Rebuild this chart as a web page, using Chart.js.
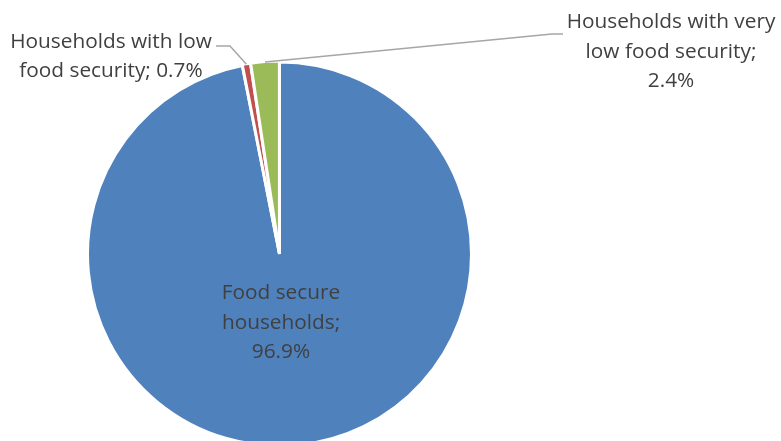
<!DOCTYPE html>
<html>
<head>
<meta charset="utf-8">
<script src="https://cdn.jsdelivr.net/npm/chart.js@4.4.0/dist/chart.umd.min.js"></script>
<style>
html, body { margin: 0; padding: 0; background: #ffffff; overflow: hidden; width: 781px; height: 441px; }
#wrap { width: 781px; height: 450px; }
canvas { display: block; }
</style>
</head>
<body>
<div id="wrap"><canvas id="c" width="781" height="450"></canvas></div>
<script>
const categories = ['Food secure households', 'Households with low food security', 'Households with very low food security'];
const values = [96.9, 0.7, 2.4];
const colors = ['#4F81BD', '#C0504D', '#9BBB59'];
// wrapped label lines as shown in the chart
const labelLines = [
  ['Food secure', 'households;', '96.9%'],
  ['Households with low', 'food security; 0.7%'],
  ['Households with very', 'low food security;', '2.4%']
];

const FONT = '20.8px "Open Sans"';
const TEXT_COLOR = '#404040';
const LEADER = '#A6A6A6';

const labelPlugin = {
  id: 'labelPlugin',
  afterDraw(chart) {
    const ctx = chart.ctx;
    const arcs = chart.getDatasetMeta(0).data;
    const cx = arcs[0].x, cy = arcs[0].y, r = arcs[0].outerRadius;
    ctx.save();
    ctx.font = FONT;
    ctx.fillStyle = TEXT_COLOR;
    ctx.textAlign = 'center';
    ctx.textBaseline = 'alphabetic';

    const inside = labelLines[0];
    inside.forEach((t, i) => ctx.fillText(t, cx + 1.5, cy + 45.3 + i * 29.5));

    function outerMid(arc) {
      const a = (arc.startAngle + arc.endAngle) / 2;
      const off = arc.options.offset || 0;
      const rr = r - 1.5 + off;
      return { x: arc.x + Math.cos(a) * rr, y: arc.y + Math.sin(a) * rr };
    }

    ctx.strokeStyle = LEADER;
    ctx.lineWidth = 1.5;

    const p1 = outerMid(arcs[1]);
    const l1x = cx - 168.5, l1y = cy - 205.7;
    ctx.beginPath();
    ctx.moveTo(p1.x, p1.y);
    ctx.lineTo(cx - 49.5, cy - 208);
    ctx.lineTo(cx - 63.5, cy - 208);
    ctx.stroke();
    labelLines[1].forEach((t, i) => ctx.fillText(t, l1x, l1y + i * 28.4));

    const p2 = outerMid(arcs[2]);
    const l2x = cx + 391.5, l2y = cy - 225.7;
    ctx.beginPath();
    ctx.moveTo(p2.x, p2.y);
    ctx.lineTo(cx + 272.5, cy - 220);
    ctx.lineTo(cx + 283.5, cy - 220);
    ctx.stroke();
    labelLines[2].forEach((t, i) => ctx.fillText(t, l2x, l2y + i * 29.2));
    ctx.restore();
  }
};

new Chart(document.getElementById('c'), {
  type: 'pie',
  data: {
    labels: categories,
    datasets: [{
      data: values,
      backgroundColor: colors,
      borderColor: '#ffffff',
      borderWidth: 3,
      hoverBorderWidth: 3,
      offset: [0, 2, 2],
      hoverOffset: 0
    }]
  },
  options: {
    responsive: false,
    animation: false,
    devicePixelRatio: 1,
    events: [],
    layout: { padding: { left: 85, right: 307, top: 59.5, bottom: 1.5 } },
    plugins: { legend: { display: false }, tooltip: { enabled: false } }
  },
  plugins: [labelPlugin]
});
</script>
</body>
</html>
